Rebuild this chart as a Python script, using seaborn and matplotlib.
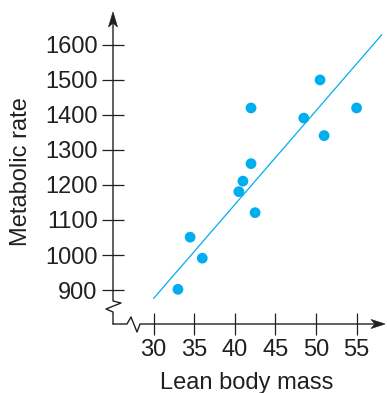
import matplotlib
matplotlib.use("Agg")
import matplotlib.pyplot as plt
from matplotlib.patches import Polygon
import seaborn as sns

# Data
lean_mass = [33.0, 34.5, 36.0, 40.5, 41.0, 42.0, 42.0, 42.5, 48.5, 50.5, 51.0, 55.0]
metabolic_rate = [902, 1051, 991, 1181, 1211, 1261, 1420, 1121, 1391, 1500, 1341, 1420]

# fitted line (two ends)
fit_x = [30, 58.1]
fit_y = [876, 1629]

x_ticks = [30, 35, 40, 45, 50, 55]
y_ticks = [900, 1000, 1100, 1200, 1300, 1400, 1500, 1600]

blue = "#00aeef"
ink = "#231f20"

sns.set_theme(style="ticks")
plt.rcParams["font.family"] = ["Liberation Sans", "DejaVu Sans"]

W, H = 387, 393
fig = plt.figure(figsize=(W / 100, H / 100), dpi=100)
ax_w, ax_h = 272, 312
ax = fig.add_axes([113 / W, 69 / H, ax_w / W, ax_h / H])

sns.lineplot(x=fit_x, y=fit_y, color=blue, lw=0.9, ax=ax)
sns.scatterplot(x=lean_mass, y=metabolic_rate, color=blue, s=60,
                edgecolor="none", ax=ax, zorder=3)

ax.set_xlim(25, 58.5)
ax.set_ylim(803, 1694)
ax.set_xticks(x_ticks)
ax.set_yticks(y_ticks)
ax.tick_params(direction="inout", length=16, width=0.9, color=ink,
               labelcolor=ink, labelsize=17, pad=3,
               bottom=True, left=True)

for s in ax.spines.values():
    s.set_visible(False)

# axis lines with the break zigzags (pixel offsets -> axes fraction)
def px(points):
    return [(p[0] / ax_w, p[1] / ax_h) for p in points]

vline = px([(0, 0), (0, 12), (-7, 15), (8, 21), (0, 23), (0, ax_h - 8)])
hline = px([(0, 0), (14, 0), (18, 7), (24, -8), (27, 0), (ax_w - 8, 0)])
for pts in [vline, hline]:
    ax.plot([p[0] for p in pts], [p[1] for p in pts], color=ink, lw=1,
            transform=ax.transAxes, clip_on=False)

# arrow heads, slightly concave at the back
up_head = px([(0, ax_h), (-4.5, ax_h - 15), (0, ax_h - 11), (4.5, ax_h - 15)])
right_head = px([(ax_w, 0), (ax_w - 14, 4.5), (ax_w - 10, 0), (ax_w - 14, -4.5)])
for pts in [up_head, right_head]:
    ax.add_patch(Polygon(pts, closed=True, facecolor=ink, edgecolor=ink,
                         lw=0.5, transform=ax.transAxes, clip_on=False))

ax.set_xlabel("Lean body mass", fontsize=17, color=ink)
ax.set_ylabel("Metabolic rate", fontsize=17, color=ink)
ax.xaxis.set_label_coords(0.49, -0.155)
ax.yaxis.set_label_coords(-0.298, 0.49)

fig.savefig("out.png", dpi=100)
